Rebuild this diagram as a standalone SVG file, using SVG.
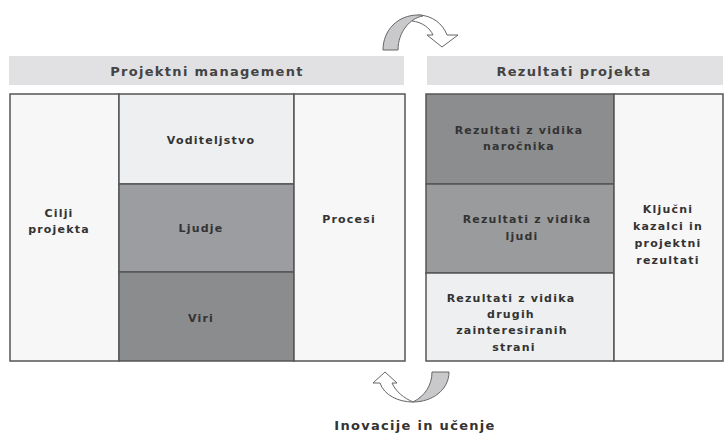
<svg xmlns="http://www.w3.org/2000/svg" width="726" height="434" viewBox="0 0 726 434">
<style>
.hdr{fill:#e1e1e3}
.hdrt{font-family:"DejaVu Sans",sans-serif;font-weight:bold;font-size:13px;letter-spacing:1.3px;fill:#444;text-anchor:middle}
.cell{stroke:#555;stroke-width:1.5}
.t{font-family:"DejaVu Sans",sans-serif;font-weight:bold;font-size:11px;letter-spacing:1.2px;fill:#333;text-anchor:middle}
.arrowG{fill:#c9c9cb;stroke:#666;stroke-width:1}
.arrowW{fill:#fff;stroke:#666;stroke-width:1}
</style>
<rect width="726" height="434" fill="#fff"/>
<g id="header-left"><rect class="hdr" x="9" y="56" width="395" height="29"/><text class="hdrt" x="207" y="76">Projektni management</text></g>
<g id="header-right"><rect class="hdr" x="427" y="56" width="296" height="29"/><text class="hdrt" x="574" y="76">Rezultati projekta</text></g>
<g id="cilji"><rect class="cell" x="10" y="94" width="109" height="267" fill="#f7f7f7"/><text class="t" x="59" y="217">Cilji</text><text class="t" x="59" y="233">projekta</text></g>
<g id="voditeljstvo"><rect class="cell" x="119" y="94" width="175" height="90" fill="#eeeff1"/><text class="t" x="211" y="144">Voditeljstvo</text></g>
<g id="ljudje"><rect class="cell" x="119" y="184" width="175" height="88" fill="#9c9da0"/><text class="t" x="201" y="232">Ljudje</text></g>
<g id="viri"><rect class="cell" x="119" y="272" width="175" height="89" fill="#8b8c8e"/><text class="t" x="201" y="322">Viri</text></g>
<g id="procesi"><rect class="cell" x="294" y="94" width="111" height="267" fill="#f7f7f7"/><text class="t" x="349" y="223">Procesi</text></g>
<g id="narocnik"><rect class="cell" x="426" y="94" width="188" height="90" fill="#8c8d8f"/><text class="t" x="519" y="134">Rezultati z vidika</text><text class="t" x="519" y="150">naročnika</text></g>
<g id="ljudi"><rect class="cell" x="426" y="184" width="188" height="89" fill="#9a9b9d"/><text class="t" x="527" y="223">Rezultati z vidika</text><text class="t" x="522" y="240">ljudi</text></g>
<g id="drugih"><rect class="cell" x="426" y="273" width="188" height="88" fill="#eeeff1"/><text class="t" x="511" y="302">Rezultati z vidika</text><text class="t" x="511" y="318">drugih</text><text class="t" x="512" y="334">zainteresiranih</text><text class="t" x="514" y="351">strani</text></g>
<g id="kljucni"><rect class="cell" x="614" y="94" width="109" height="267" fill="#f7f7f7"/><text class="t" x="668" y="213">Ključni</text><text class="t" x="668" y="230">kazalci in</text><text class="t" x="668" y="247">projektni</text><text class="t" x="668" y="264">rezultati</text></g>
<g id="connectors">
<g id="arrow-top">
<path class="arrowW" d="M418,15 C432,15 443,24 447,35 L458,35 L442,47 L427,35 L433,35 C430,28 422,22 412,21 Z"/>
<path class="arrowG" d="M383,50 C383,30 398,15 418,15 C420,15 422,15 423,16 C410,18 398,32 398,50 Z"/>
</g>
<g id="arrow-bottom">
<path class="arrowW" d="M413,402 C398,402 384,395 380,383 L373,383 L385,372 L397,383 L392,383 C396,392 404,398 413,402 Z"/>
<path class="arrowG" d="M432,372 L449,372 C449,390 432,402 413,402 C425,396 432,385 432,372 Z"/>
</g>
</g>
<g id="label-inovacije"><text class="hdrt" x="415" y="430" style="fill:#333">Inovacije in učenje</text></g>
</svg>
